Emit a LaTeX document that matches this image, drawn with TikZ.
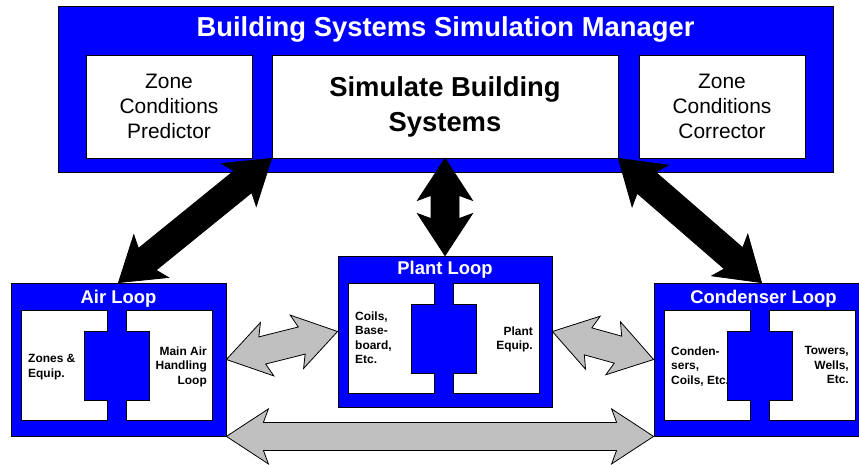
\documentclass[tikz,border=0pt]{standalone}
\usepackage{fontspec}
\setmainfont{Liberation Sans}
\usetikzlibrary{calc}
\definecolor{loopblue}{HTML}{0000FF}
\definecolor{arrowgray}{HTML}{C0C0C0}
% fat double arrow between two named points
\newcommand\fatarrow[3]{%
  \draw[#3] (#1)
    -- ($(#1)!42bp!(#2)!27.5bp!90:(#2)$)
    -- ($(#1)!37bp!(#2)!14bp!90:(#2)$)
    -- ($(#2)!37bp!(#1)!14bp!-90:(#1)$)
    -- ($(#2)!42bp!(#1)!27.5bp!-90:(#1)$)
    -- (#2)
    -- ($(#2)!42bp!(#1)!27.5bp!90:(#1)$)
    -- ($(#2)!37bp!(#1)!14bp!90:(#1)$)
    -- ($(#1)!37bp!(#2)!14bp!-90:(#2)$)
    -- ($(#1)!42bp!(#2)!27.5bp!-90:(#2)$)
    -- cycle;}
% inner white panels of a loop box
\newcommand\loopinner[1]{%
  \begin{scope}[shift={(#1.north west)}]
    \draw[panel] (11,28) -- (97,28) -- (97,49) -- (74,49) -- (74,118) -- (97,118) -- (97,138) -- (11,138) -- cycle;
    \draw[panel] (116,28) -- (202,28) -- (202,138) -- (116,138) -- (116,118) -- (139,118) -- (139,49) -- (116,49) -- cycle;
  \end{scope}}
\begin{document}
\begin{tikzpicture}[x=1bp,y=-1bp,
  bluebox/.style={draw=black, fill=loopblue, line width=0.8bp, inner sep=0pt},
  whitebox/.style={draw=black, fill=white, line width=0.8bp, inner sep=0pt, align=center},
  panel/.style={draw=black, fill=white, line width=0.8bp},
  maintitle/.style={text=white, font=\bfseries\fontsize{27.5}{30}\selectfont, inner sep=0pt, anchor=base},
  looptitle/.style={text=white, font=\bfseries\fontsize{18.5}{21}\selectfont, inner sep=0pt, anchor=base},
  smalltext/.style={font=\bfseries\fontsize{12}{14.5}\selectfont, inner sep=0pt},
  blackarrow/.style={fill=black, draw=black, line width=0.8bp},
  grayarrow/.style={fill=arrowgray, draw=black, line width=0.8bp}]
\useasboundingbox (0,0) rectangle (859,465);

% manager
\node[bluebox, minimum width=775bp, minimum height=166bp] (mgr) at (445.5,89) {};
\node[maintitle] (mgrtitle) at (445.5,37) {Building Systems Simulation Manager};
\node[whitebox, minimum width=166bp, minimum height=103bp, font=\fontsize{21}{25}\selectfont] (pred) at (169,106.5) {Zone\\Conditions\\Predictor};
\node[whitebox, minimum width=346bp, minimum height=103bp, font=\bfseries\fontsize{27.5}{35}\selectfont] (sim) at (445,106.5) {Simulate Building\\Systems};
\node[whitebox, minimum width=166bp, minimum height=103bp, font=\fontsize{21}{25}\selectfont] (corr) at (722,106.5) {Zone\\Conditions\\Corrector};

% loops
\node[bluebox, minimum width=215bp, minimum height=153bp] (air) at (118.5,359.5) {};
\loopinner{air}
\node[looptitle] (airtitle) at ($(air.north)+(0,21)$) {Air Loop};
\node[smalltext, anchor=north west, align=left] (airl) at (28,354.4) {Zones \&\\Equip.};
\node[smalltext, anchor=north east, align=right] (airr) at (207,346.4) {Main Air\\Handling\\Loop};

\node[bluebox, minimum width=214bp, minimum height=151bp] (plant) at (445,331.5) {};
\loopinner{plant}
\node[looptitle] (planttitle) at ($(plant.north)+(0,19)$) {Plant Loop};
\node[smalltext, anchor=north west, align=left] (plantl) at (355,311.4) {Coils,\\Base-\\board,\\Etc.};
\node[smalltext, anchor=north east, align=right] (plantr) at (533,326.4) {Plant\\Equip.};

\node[bluebox, minimum width=215bp, minimum height=153bp] (cond) at (761.5,359.5) {};
\loopinner{cond}
\node[looptitle] (condtitle) at ($(cond.north)+(2,21)$) {Condenser Loop};
\node[smalltext, anchor=north west, align=left] (condl) at (671,346.4) {Conden-\\sers,\\Coils, Etc.};
\node[smalltext, anchor=north east, align=right] (condr) at (849,346.4) {Towers,\\Wells,\\Etc.};

% arrows
\fatarrow{sim.south west}{air.north}{blackarrow}
\fatarrow{sim.south}{plant.north}{blackarrow}
\fatarrow{sim.south east}{cond.north}{blackarrow}
\fatarrow{air.east}{plant.west}{grayarrow}
\fatarrow{plant.east}{cond.west}{grayarrow}
\fatarrow{air.south east}{cond.south west}{grayarrow}
\end{tikzpicture}
\end{document}
